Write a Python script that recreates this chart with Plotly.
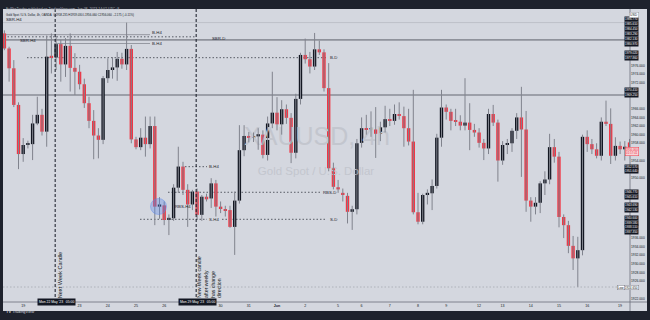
import plotly.graph_objects as go

# ---------------- data (XAUUSD 4h candles) ----------------
opens = [
    1983.5, 1980.0, 1975.4, 1966.9, 1955.5, 1957.6, 1957.8, 1962.6, 1964.6, 1960.7,
    1978.3, 1977.9, 1981.0, 1976.3, 1980.6, 1975.5, 1974.6, 1971.7, 1967.3, 1963.2,
    1959.8, 1958.8, 1973.1, 1975.0, 1975.6, 1977.6, 1976.3, 1979.9, 1958.9, 1957.1,
    1959.3, 1957.8, 1962.0, 1943.3, 1943.6, 1940.4, 1940.6, 1947.7, 1952.6, 1947.2,
    1943.8, 1946.8, 1941.4, 1945.6, 1945.2, 1948.7, 1943.3, 1942.7, 1942.5, 1938.6,
    1944.7, 1956.4, 1959.7, 1959.4, 1959.6, 1960.0, 1955.3, 1962.6, 1965.1, 1962.4,
    1965.9, 1963.9, 1955.8, 1968.3, 1978.5, 1977.5, 1975.8, 1979.8, 1979.1, 1970.8,
    1952.2, 1947.8, 1946.5, 1945.8, 1942.1, 1942.7, 1958.1, 1961.5, 1961.1, 1961.2,
    1960.2, 1961.7, 1963.6, 1963.2, 1964.8, 1964.3, 1961.5, 1958.4, 1942.0, 1939.8,
    1946.0, 1946.4, 1948.1, 1959.3, 1966.3, 1965.3, 1963.4, 1963.0, 1962.1, 1962.8,
    1961.1, 1960.5, 1958.1, 1956.8, 1964.8, 1962.8, 1954.0, 1957.6, 1958.0, 1960.9,
    1964.0, 1961.2, 1944.7, 1943.3, 1944.2, 1948.7, 1949.6, 1957.1, 1954.9, 1940.9,
    1939.0, 1934.2, 1931.3, 1933.2, 1959.5, 1957.8, 1956.6, 1955.1, 1963.0, 1962.5,
    1955.1, 1957.4, 1956.6, 1958.2]
highs = [
    1984.2, 1980.4, 1977.3, 1967.5, 1959.2, 1958.6, 1964.6, 1968.8, 1966.0, 1983.0,
    1983.5, 1982.9, 1982.0, 1982.4, 1983.5, 1978.9, 1976.2, 1973.0, 1968.8, 1965.7,
    1961.5, 1973.6, 1977.7, 1978.0, 1979.2, 1979.0, 1986.0, 1980.8, 1959.5, 1961.5,
    1964.2, 1964.2, 1964.2, 1945.5, 1944.5, 1941.5, 1948.5, 1957.2, 1953.7, 1948.5,
    1947.2, 1947.5, 1946.0, 1946.3, 1949.9, 1949.5, 1944.5, 1943.5, 1943.5, 1946.8,
    1962.2, 1962.2, 1960.6, 1960.5, 1961.5, 1961.0, 1964.2, 1974.6, 1968.7, 1968.0,
    1967.0, 1965.0, 1969.5, 1979.0, 1982.3, 1979.2, 1983.6, 1981.8, 1979.8, 1976.6,
    1953.5, 1949.5, 1947.5, 1946.5, 1943.5, 1959.0, 1964.0, 1964.6, 1965.4, 1966.4,
    1963.0, 1966.7, 1966.0, 1967.0, 1967.5, 1966.5, 1966.0, 1970.4, 1946.5, 1946.3,
    1947.3, 1949.6, 1960.2, 1970.4, 1967.0, 1966.0, 1966.0, 1964.5, 1973.1, 1967.3,
    1962.5, 1961.5, 1959.0, 1966.0, 1966.9, 1963.5, 1958.5, 1959.0, 1961.5, 1965.0,
    1971.1, 1965.5, 1945.5, 1945.5, 1949.2, 1951.5, 1960.2, 1959.0, 1956.0, 1941.5,
    1940.0, 1936.5, 1936.3, 1960.0, 1961.0, 1959.0, 1958.0, 1964.0, 1967.9, 1966.1,
    1959.4, 1958.4, 1958.5, 1959.0]
lows = [
    1979.6, 1972.3, 1966.4, 1952.0, 1953.7, 1956.8, 1954.1, 1962.2, 1959.8, 1957.2,
    1974.2, 1975.0, 1972.3, 1973.4, 1970.0, 1969.2, 1970.5, 1966.2, 1961.5, 1954.3,
    1954.5, 1957.8, 1972.0, 1973.0, 1972.5, 1975.3, 1975.0, 1958.0, 1956.6, 1956.4,
    1954.9, 1956.8, 1939.0, 1940.5, 1939.0, 1936.7, 1940.0, 1946.5, 1946.0, 1938.6,
    1942.5, 1940.2, 1940.0, 1944.5, 1943.0, 1941.0, 1941.8, 1941.0, 1938.4, 1932.1,
    1944.0, 1955.0, 1958.2, 1958.3, 1956.5, 1954.5, 1954.0, 1961.5, 1961.0, 1960.0,
    1962.5, 1953.4, 1954.5, 1967.0, 1976.5, 1974.2, 1975.0, 1978.5, 1970.0, 1951.5,
    1947.3, 1946.5, 1944.5, 1939.4, 1937.9, 1941.5, 1957.0, 1960.0, 1959.5, 1954.6,
    1958.5, 1960.5, 1962.0, 1962.3, 1963.5, 1957.2, 1957.5, 1941.5, 1939.2, 1939.2,
    1943.8, 1942.5, 1947.5, 1957.2, 1963.5, 1961.0, 1962.0, 1961.0, 1961.0, 1956.4,
    1959.5, 1957.0, 1954.1, 1955.5, 1962.0, 1949.1, 1953.0, 1955.5, 1956.0, 1959.0,
    1950.2, 1942.1, 1939.8, 1941.5, 1941.8, 1946.0, 1948.5, 1953.5, 1938.5, 1936.0,
    1932.5, 1928.6, 1924.7, 1932.0, 1956.0, 1955.5, 1954.5, 1954.0, 1962.0, 1953.2,
    1954.0, 1955.5, 1954.0, 1956.06]
closes = [
    1980.0, 1975.4, 1966.9, 1955.5, 1957.6, 1957.8, 1962.6, 1964.6, 1960.7, 1978.1,
    1977.9, 1981.0, 1976.3, 1980.6, 1975.5, 1974.6, 1971.7, 1967.3, 1963.2, 1959.8,
    1958.8, 1973.1, 1975.0, 1975.6, 1977.6, 1976.3, 1979.9, 1958.9, 1957.1, 1959.3,
    1957.8, 1962.0, 1943.3, 1943.8, 1940.2, 1940.7, 1947.7, 1952.6, 1947.2, 1943.8,
    1946.8, 1941.4, 1945.6, 1945.0, 1948.7, 1943.3, 1942.9, 1942.3, 1938.6, 1944.7,
    1956.4, 1959.7, 1959.3, 1959.6, 1960.1, 1955.3, 1962.6, 1965.1, 1962.4, 1965.9,
    1963.9, 1955.8, 1968.3, 1978.5, 1977.5, 1975.8, 1979.8, 1979.1, 1970.8, 1952.2,
    1947.9, 1947.3, 1946.0, 1942.1, 1942.7, 1958.0, 1961.5, 1961.1, 1961.3, 1960.2,
    1961.7, 1963.6, 1963.2, 1964.8, 1964.4, 1961.5, 1958.4, 1942.0, 1939.8, 1946.0,
    1946.5, 1948.1, 1959.3, 1966.3, 1965.3, 1963.2, 1963.0, 1962.1, 1962.8, 1961.1,
    1960.5, 1958.1, 1956.8, 1964.8, 1962.8, 1954.0, 1957.6, 1958.0, 1960.9, 1964.0,
    1961.2, 1944.7, 1943.3, 1944.2, 1948.7, 1949.6, 1957.1, 1954.9, 1940.9, 1939.0,
    1934.2, 1931.3, 1933.2, 1959.5, 1957.8, 1956.6, 1955.1, 1963.0, 1962.5, 1955.1,
    1957.4, 1956.6, 1957.2, 1956.1]

tick_idx = [4, 16, 22, 28, 34, 46, 52, 58, 64, 71, 76, 82, 88, 94, 101, 106, 112, 118, 124, 131]
tick_text = ["19", "23", "24", "25", "26", "30", "31", "<b>Jun</b>", "2", "5", "6", "7",
             "8", "9", "12", "13", "14", "15", "16", "19"]
week_start_idx = [11, 41]
week_start_text = ["Mon 22 May '23   05:00", "Mon 29 May '23   05:00"]

price_ticks = [1922, 1924, 1926, 1928, 1930, 1932, 1934, 1936, 1938, 1940, 1942, 1944,
               1946, 1948, 1950, 1952, 1954, 1956, 1958, 1960, 1962, 1964, 1966, 1968,
               1970, 1972, 1974, 1976, 1978, 1980, 1982, 1984, 1986, 1988]
axis_box_prices = [1986.770, 1985.610, 1984.450, 1983.290, 1982.130, 1980.970, 1979.020,
                   1977.860, 1970.410, 1969.250, 1952.570, 1951.640, 1946.770, 1945.610,
                   1943.690, 1942.530, 1940.600, 1939.580, 1938.510, 1937.350]
last_price = 1956.060
low_price = 1924.650

level_prices = [1986.0, 1983.2, 1982.7, 1982.0, 1981.15, 1977.86, 1969.2,
                1952.57, 1946.63, 1940.36, 1940.36, 1924.65]

# ---------------- geometry / style ----------------
W, H = 650, 320
PL, PR, PT, PB = 3, 630, 9, 302
FONT = "Liberation Sans, Arial, sans-serif"
RED, BLACK, WICK = "#f23645", "#131722", "#80838d"
BG, DARK = "#d4d7df", "#1e222d"


def ix(px):
    return (px - 4.4) / 4.7


def pr(py):
    return 1976 - (py - 65.7) / 4.31


def xp(px):
    return (px - PL) / (PR - PL)


def yp(py):
    return (PB - py) / (PB - PT)


level_styles = [
    (3, 630, "solid", "#b6b9c1", 0.8),
    (4, 150, "solid", "#8f929b", 0.9),
    (4, 195, "1.5px,2px", "#4a4d57", 0.9),
    (3, 630, "solid", "#8f929b", 1.6),
    (54, 150, "solid", "#8f929b", 0.9),
    (27, 326, "1.5px,2px", "#4a4d57", 0.9),
    (3, 630, "solid", "#8a8d96", 1.4),
    (185, 207, "1.5px,2px", "#4a4d57", 0.9),
    (168, 322, "1.5px,2px", "#4a4d57", 0.9),
    (140, 207, "1.5px,2px", "#4a4d57", 0.9),
    (222, 327, "1.5px,2px", "#4a4d57", 0.9),
    (3, 630, "1.5px,2px", "#a6a9b1", 0.8),
]
level_labels = [("SBR-H4", 13.5, 19.3), ("B-H4", 157, 32.7), ("SBR-H4", 28, 40),
                ("SBR-D", 218, 38), ("B-H4", 157, 43.5), ("B-D", 333, 57.7),
                ("B-H4", 214, 166.7), ("RBS-H4", 183, 206), ("S-H4", 214, 219.3),
                ("RBS-D", 329.5, 192.3), ("S-D", 333, 219.3)]

n = len(opens)
idx = list(range(n))

wx, wy = [], []
for i in idx:
    wx += [i, i, None]
    wy += [lows[i], highs[i], None]

bases = [min(o, c) for o, c in zip(opens, closes)]
heights = [max(abs(c - o), 0.3) for o, c in zip(opens, closes)]
colors = [RED if c < o else BLACK for o, c in zip(opens, closes)]

covered = axis_box_prices + [last_price, low_price, pr(12.5)]
shown_ticks = [t for t in price_ticks if all(abs(t - b) > 1.25 for b in covered)]

fig = go.Figure()
fig.add_trace(go.Scatter(
    x=[ix(317), ix(316)], y=[pr(139), pr(172)], mode="text",
    text=["XAUUSD, 4h", "Gold Spot / U.S. Dollar"],
    textfont=dict(size=[25, 11.5], color="#c3c6ce", family=FONT),
    hoverinfo="skip"))
fig.add_trace(go.Scatter(x=wx, y=wy, mode="lines",
                         line=dict(color=WICK, width=1), hoverinfo="skip"))
fig.add_trace(go.Bar(x=idx, y=heights, base=bases, width=0.72,
                     marker=dict(color=colors, line=dict(width=0)), hoverinfo="skip"))

shapes = []
shapes.append(dict(type="rect", xref="paper", yref="paper", x0=1, x1=xp(647),
                   y0=yp(311), y1=1, fillcolor=BG, line=dict(width=0), layer="below"))
shapes.append(dict(type="rect", xref="paper", yref="paper", x0=0, x1=xp(647),
                   y0=yp(311), y1=0, fillcolor=BG, line=dict(width=0), layer="below"))
shapes.append(dict(type="line", xref="paper", yref="paper", x0=1, x1=1,
                   y0=yp(311), y1=1, line=dict(color="#6a6d78", width=0.8)))
shapes.append(dict(type="line", xref="paper", yref="paper", x0=0, x1=xp(647),
                   y0=0, y1=0, line=dict(color="#6a6d78", width=0.8)))
for p, (a, b, dash, col, w) in zip(level_prices, level_styles):
    shapes.append(dict(type="line", xref="x", yref="y", x0=ix(a), x1=ix(b), y0=p, y1=p,
                       line=dict(color=col, width=w, dash=dash), layer="below"))
for i in week_start_idx:
    shapes.append(dict(type="line", xref="x", yref="paper", x0=i - 0.2, x1=i - 0.2,
                       y0=0, y1=1, line=dict(color=BLACK, width=1, dash="3px,2px")))
shapes.append(dict(type="circle", xref="x", yref="y", x0=ix(150.5), x1=ix(166.5),
                   y0=pr(214.5), y1=pr(198.5), fillcolor="rgba(90,135,235,0.35)",
                   line=dict(color="rgba(90,135,235,0.5)", width=0.8)))

ann = []
for t, px, py in level_labels:
    ann.append(dict(x=ix(px), y=pr(py), xref="x", yref="y", text=t, showarrow=False,
                    borderpad=0, font=dict(size=4.3, color="#1e222d", family=FONT)))
ann.append(dict(x=ix(60.3), y=yp(300.5), xref="x", yref="paper", text="Next Week Candle",
                textangle=-90, showarrow=False, xanchor="center", yanchor="bottom",
                font=dict(size=5.6, color=BLACK, family=FONT)))
ann.append(dict(x=ix(208.5), y=yp(300.5), xref="x", yref="paper",
                text="New Week candle<br>after weekly<br>has change<br>direction",
                textangle=-90, showarrow=False, xanchor="center", yanchor="bottom",
                align="left", font=dict(size=5.2, color=BLACK, family=FONT)))
for i, t in zip(week_start_idx, week_start_text):
    ann.append(dict(x=i, y=yp(306.5), xref="x", yref="paper", text=t, showarrow=False,
                    bgcolor=BLACK, borderpad=1, font=dict(size=3.4, color="#ffffff", family=FONT)))
for p in axis_box_prices:
    ann.append(dict(x=xp(638.8), y=p, xref="paper", yref="y", text=f"{p:.3f}",
                    showarrow=False, bgcolor=BLACK, borderpad=0,
                    font=dict(size=3.0, color="#ffffff", family=FONT)))
ann.append(dict(x=xp(638.8), y=last_price, xref="paper", yref="y",
                text=f"{last_price:.3f}<br>01:57:41", showarrow=False, bgcolor="#f6d3d7",
                bordercolor=RED, borderwidth=0.5, borderpad=0.2,
                font=dict(size=2.9, color=RED, family=FONT)))
ann.append(dict(x=xp(638.8), y=low_price, xref="paper", yref="y", text=f"{low_price:.3f}",
                showarrow=False, bgcolor="#ffffff", bordercolor="#787b86", borderwidth=0.5,
                borderpad=0.2, font=dict(size=3.1, color=BLACK, family=FONT)))
ann.append(dict(x=xp(625), y=low_price, xref="paper", yref="y", text="Low",
                showarrow=False, bgcolor="#ffffff", bordercolor="#787b86", borderwidth=0.5,
                borderpad=0.2, font=dict(size=3.1, color=BLACK, family=FONT)))
ann.append(dict(x=xp(638.8), y=yp(12.5), xref="paper", yref="paper", text="USD",
                showarrow=False, bgcolor="#ffffff", bordercolor="#9598a1", borderwidth=0.5,
                borderpad=0.6, font=dict(size=3.4, color=BLACK, family=FONT)))
ann.append(dict(x=xp(4), y=yp(4.5), xref="paper", yref="paper", xanchor="left",
                text="EuPheTrader published on TradingView.com, Jun 08, 2023 14:02 UTC+8",
                showarrow=False, font=dict(size=3.5, color="#b2b5be", family=FONT)))
ann.append(dict(x=xp(5), y=yp(12.0), xref="paper", yref="paper", xanchor="left",
                text="Gold Spot / U.S. Dollar, 4h, OANDA  O1958.235 H1959.030 L1956.060 "
                     "C1956.060 \u22122.175 (\u22120.11%)",
                showarrow=False, borderpad=0, font=dict(size=2.9, color=BLACK, family=FONT)))
ann.append(dict(x=xp(4), y=yp(315.5), xref="paper", yref="paper", xanchor="left",
                text="<b>TV</b> TradingView", showarrow=False,
                font=dict(size=4, color="#d1d4dc", family=FONT)))

fig.update_layout(
    width=W, height=H, autosize=False,
    margin=dict(l=PL, r=W - PR, t=PT, b=H - PB, pad=0),
    paper_bgcolor=DARK, plot_bgcolor=BG,
    showlegend=False, hovermode=False,
    shapes=shapes, annotations=ann,
    xaxis=dict(range=[ix(PL), ix(PR)], tickvals=tick_idx, ticktext=tick_text,
               showgrid=False, zeroline=False, ticks="", showline=False,
               tickfont=dict(size=3.6, color=BLACK, family=FONT), fixedrange=True),
    yaxis=dict(range=[pr(PB), pr(PT)], side="right", tickvals=shown_ticks,
               ticktext=[f"{v:.3f}" for v in shown_ticks], showgrid=False,
               zeroline=False, ticks="", showline=False,
               tickfont=dict(size=3.3, color=BLACK, family=FONT), fixedrange=True),
)

fig.write_html("out.html")
